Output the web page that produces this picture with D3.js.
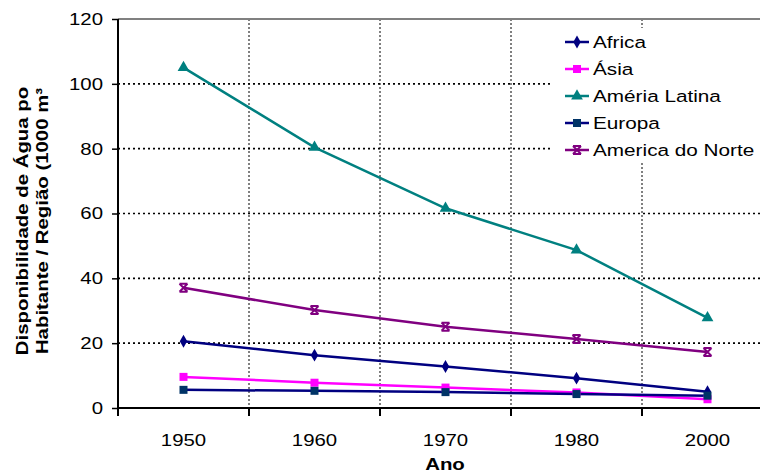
<!DOCTYPE html>
<html><head><meta charset="utf-8">
<script src="https://cdn.jsdelivr.net/npm/d3@7"></script>
<style>
html,body{margin:0;padding:0;background:#fff;}
svg text{font-family:"Liberation Sans",Arial,sans-serif;fill:#000;}
</style></head>
<body>
<svg id="chart" width="760" height="475"></svg>
<script>
const years = ["1950","1960","1970","1980","2000"];
const africa = [20.6, 16.3, 12.8, 9.2, 5.0];
const asia = [9.6, 7.8, 6.3, 4.8, 2.7];
const americaLatina = [105, 80.4, 61.6, 48.7, 27.8];
const europa = [5.6, 5.3, 4.9, 4.3, 3.8];
const americaNorte = [37.1, 30.2, 25.1, 21.3, 17.3];
const seriesNames = ["Africa","Ásia","Améria Latina","Europa","America do Norte"];
const yTicks = [0,20,40,60,80,100,120];

const series = [
  {name: seriesNames[0], values: africa, line: "#000080", marker: "#000080", shape: "diamond"},
  {name: seriesNames[1], values: asia, line: "#FF00FF", marker: "#FF00FF", shape: "square"},
  {name: seriesNames[2], values: americaLatina, line: "#008080", marker: "#008080", shape: "triangle"},
  {name: seriesNames[3], values: europa, line: "#000080", marker: "#003366", shape: "square"},
  {name: seriesNames[4], values: americaNorte, line: "#800080", marker: "#800080", shape: "x"}
];

const svg = d3.select("#chart");
const pLeft = 118, pTop = 19, pBottom = 408, pRight = 773;
const SX = 1.2;

const x = d3.scaleBand().domain(years).range([pLeft, pRight]);
const y = d3.scaleLinear().domain([0,120]).range([pBottom, pTop]);

// gridlines horizontal
svg.append("g").selectAll("line").data(yTicks.filter(d => d > 0 && d < 120)).join("line")
  .attr("x1", pLeft).attr("x2", 760).attr("y1", d => y(d)).attr("y2", d => y(d))
  .attr("stroke", "#000").attr("stroke-width", 1.6).attr("stroke-dasharray", "2,3");
// gridlines vertical at band boundaries
const bounds = years.slice(1).map(d => x(d));
svg.append("g").selectAll("line").data(bounds).join("line")
  .attr("x1", d => d).attr("x2", d => d).attr("y1", pTop).attr("y2", pBottom)
  .attr("stroke", "#000").attr("stroke-width", 1).attr("stroke-dasharray", "2,2");

// top border
svg.append("line").attr("x1", pLeft).attr("x2", 760).attr("y1", pTop).attr("y2", pTop)
  .attr("stroke", "#808080").attr("stroke-width", 2);

// y axis
const yAxis = svg.append("g").attr("transform", `translate(${pLeft},0)`)
  .call(d3.axisLeft(y).tickValues(yTicks).tickSize(6).tickPadding(8));
yAxis.select(".domain").attr("stroke-width", 2).attr("d", `M0,${pTop}V${pBottom}`);
yAxis.selectAll(".tick line").attr("stroke-width", 1.5);
yAxis.selectAll("text").attr("font-size", 17).attr("font-family", "Liberation Sans")
  .attr("x", -15 / SX).attr("transform", `scale(${SX},1)`);

// x axis
const xAxis = svg.append("g").attr("transform", `translate(0,${pBottom})`)
  .call(d3.axisBottom(x).tickSize(0).tickPadding(26));
xAxis.select(".domain").remove();
svg.append("line").attr("x1", pLeft).attr("x2", 760).attr("y1", pBottom).attr("y2", pBottom)
  .attr("stroke", "#000").attr("stroke-width", 2);
svg.append("g").selectAll("line").data([pLeft, ...bounds]).join("line")
  .attr("x1", d => d).attr("x2", d => d).attr("y1", pBottom).attr("y2", pBottom + 8)
  .attr("stroke", "#000").attr("stroke-width", 2);
xAxis.selectAll("text").attr("font-size", 17).attr("font-family", "Liberation Sans")
  .attr("transform", `scale(${SX},1)`);

// axis titles
svg.append("text").attr("transform", `translate(445,470) scale(${SX},1)`)
  .attr("text-anchor", "middle").attr("font-size", 17).attr("font-weight", "bold").text("Ano");
const yt = svg.append("text").attr("transform", `translate(28,221) rotate(-90) scale(${SX},1)`)
  .attr("text-anchor", "middle").attr("font-size", 17).attr("font-weight", "bold");
yt.append("tspan").attr("x", 0).attr("dy", 0).text("Disponibilidade de Água po");
yt.append("tspan").attr("x", 0).attr("dy", 20).text("Habitante / Região (1000 m³");

// marker helper
function drawMarker(g, shape, color, cx, cy) {
  if (shape === "x") {
    const s = 4;
    g.append("path").attr("d", `M${cx-s},${cy-s}L${cx+s},${cy+s}M${cx-s},${cy+s}L${cx+s},${cy-s}M${cx-s},${cy-s}H${cx+s}M${cx-s},${cy+s}H${cx+s}`)
      .attr("stroke", color).attr("stroke-width", 2).attr("fill", "none");
    return;
  }
  const type = shape === "diamond" ? d3.symbolDiamond : shape === "square" ? d3.symbolSquare : d3.symbolTriangle;
  const size = shape === "diamond" ? 48 : shape === "square" ? 64 : 60;
  g.append("path").attr("d", d3.symbol().type(type).size(size)())
    .attr("transform", `translate(${cx},${cy})`).attr("fill", color);
}

const line = d3.line().x((d, i) => x(years[i]) + x.bandwidth() / 2).y(d => y(d));
const plot = svg.append("g");
series.forEach(s => {
  plot.append("path").datum(s.values).attr("d", line)
    .attr("fill", "none").attr("stroke", s.line).attr("stroke-width", 2.5);
});
series.forEach(s => {
  s.values.forEach((v, i) => drawMarker(plot, s.shape, s.marker, x(years[i]) + x.bandwidth() / 2, y(v)));
});

// legend
const lg = svg.append("g");
lg.append("rect").attr("x", 553).attr("y", 28).attr("width", 210).attr("height", 134).attr("fill", "#fff");
series.forEach((s, i) => {
  const cy = 42 + i * 27;
  lg.append("line").attr("x1", 565).attr("x2", 589).attr("y1", cy).attr("y2", cy)
    .attr("stroke", s.line).attr("stroke-width", 2.5);
  drawMarker(lg, s.shape, s.marker, 577, cy);
  lg.append("text").attr("transform", `translate(593,${cy + 6}) scale(1.22,1)`)
    .attr("font-size", 17).text(s.name);
});
</script>
</body></html>
